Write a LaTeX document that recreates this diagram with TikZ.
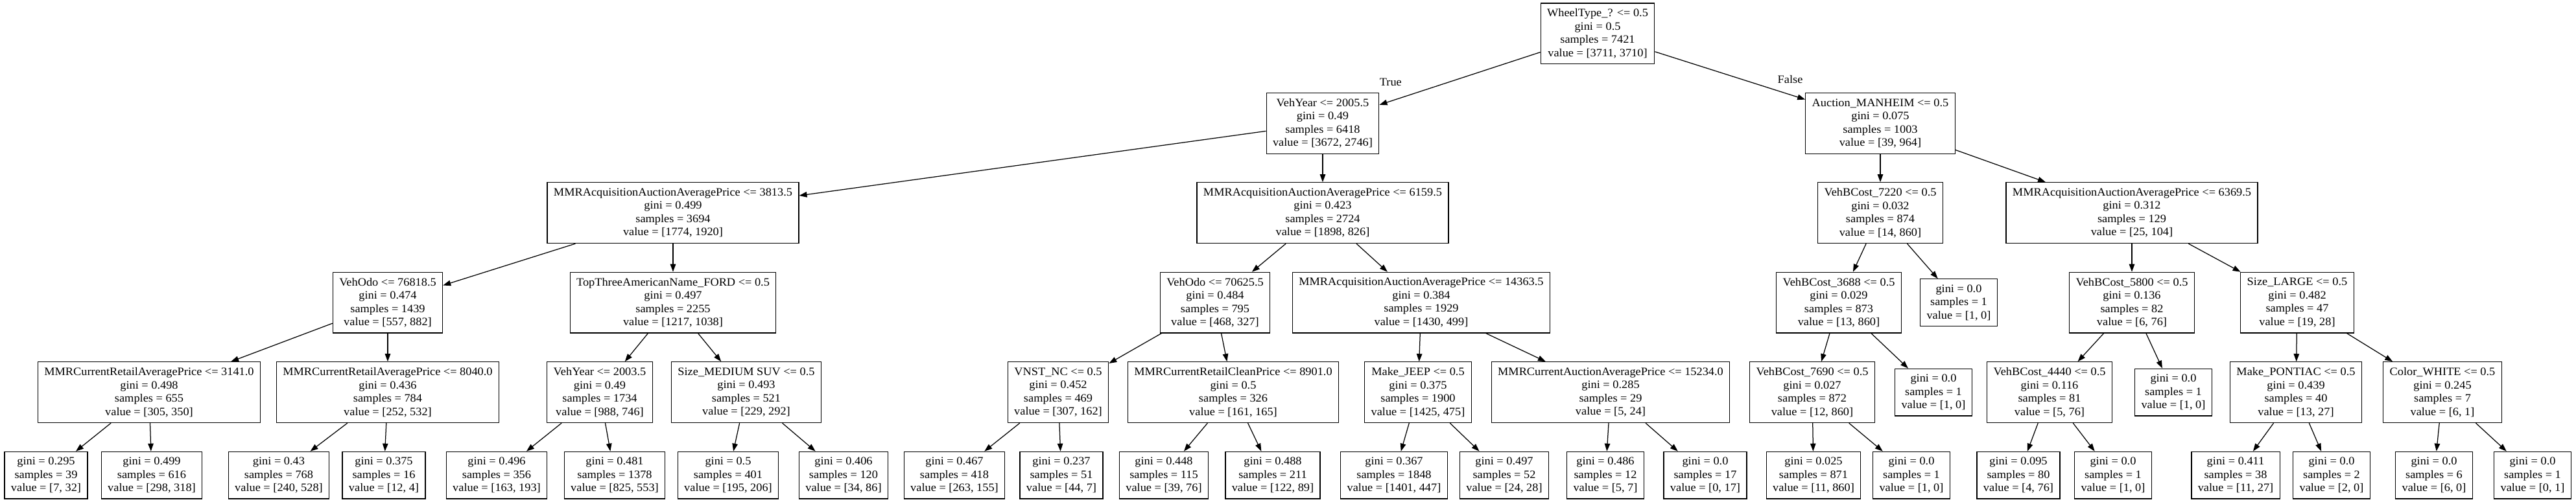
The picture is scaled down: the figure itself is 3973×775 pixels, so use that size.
\documentclass[tikz,border=0pt]{standalone}
\usepackage{fontspec}
\setmainfont{Liberation Serif}[FakeStretch=1.05]
\usetikzlibrary{arrows.meta}
\tikzset{
  ->,
  >={Triangle[length=12pt,width=8.5pt]},
  every node/.style={font=\fontsize{17.46}{20.5}\selectfont, align=center},
  split/.style={draw, inner xsep=9.88pt, inner ysep=0pt, minimum height=93.7pt},
  leaf/.style={split, minimum height=72.7pt},
}

\begin{document}
\begin{tikzpicture}[x=1pt, y=-1pt, line width=1.25pt]
    \useasboundingbox (0,0) rectangle (3973,775);

    % rank 0 and 1
    \node[split] (n0) at (2464,51.8) {WheelType\_? <= 0.5\\gini = 0.5\\samples = 7421\\value = [3711, 3710]};
    \node[split] (n1) at (2040,190.3) {VehYear <= 2005.5\\gini = 0.49\\samples = 6418\\value = [3672, 2746]};
    \node[split] (n2) at (2900,190.3) {Auction\_MANHEIM <= 0.5\\gini = 0.075\\samples = 1003\\value = [39, 964]};

    % rank 2
    \node[split] (n3) at (1038,328.7) {MMRAcquisitionAuctionAveragePrice <= 3813.5\\gini = 0.499\\samples = 3694\\value = [1774, 1920]};
    \node[split] (n4) at (2040,328.7) {MMRAcquisitionAuctionAveragePrice <= 6159.5\\gini = 0.423\\samples = 2724\\value = [1898, 826]};
    \node[split] (n5) at (2900,328.7) {VehBCost\_7220 <= 0.5\\gini = 0.032\\samples = 874\\value = [14, 860]};
    \node[split] (n6) at (3288,328.7) {MMRAcquisitionAuctionAveragePrice <= 6369.5\\gini = 0.312\\samples = 129\\value = [25, 104]};

    % rank 3
    \node[split] (n7) at (598,467.2) {VehOdo <= 76818.5\\gini = 0.474\\samples = 1439\\value = [557, 882]};
    \node[split] (n8) at (1038,467.2) {TopThreeAmericanName\_FORD <= 0.5\\gini = 0.497\\samples = 2255\\value = [1217, 1038]};
    \node[split] (n9) at (1874,467.2) {VehOdo <= 70625.5\\gini = 0.484\\samples = 795\\value = [468, 327]};
    \node[split] (n10) at (2192,467.2) {MMRAcquisitionAuctionAveragePrice <= 14363.5\\gini = 0.384\\samples = 1929\\value = [1430, 499]};
    \node[split] (n11) at (2836,467.2) {VehBCost\_3688 <= 0.5\\gini = 0.029\\samples = 873\\value = [13, 860]};
    \node[leaf] (n12) at (3021,467.2) {gini = 0.0\\samples = 1\\value = [1, 0]};
    \node[split] (n13) at (3288,467.2) {VehBCost\_5800 <= 0.5\\gini = 0.136\\samples = 82\\value = [6, 76]};
    \node[split] (n14) at (3543,467.2) {Size\_LARGE <= 0.5\\gini = 0.482\\samples = 47\\value = [19, 28]};

    % rank 4
    \node[split] (n15) at (230,605.7) {MMRCurrentRetailAveragePrice <= 3141.0\\gini = 0.498\\samples = 655\\value = [305, 350]};
    \node[split] (n16) at (598,605.7) {MMRCurrentRetailAveragePrice <= 8040.0\\gini = 0.436\\samples = 784\\value = [252, 532]};
    \node[split] (n17) at (925,605.7) {VehYear <= 2003.5\\gini = 0.49\\samples = 1734\\value = [988, 746]};
    \node[split] (n18) at (1151,605.7) {Size\_MEDIUM SUV <= 0.5\\gini = 0.493\\samples = 521\\value = [229, 292]};
    \node[split] (n19) at (1632,605.7) {VNST\_NC <= 0.5\\gini = 0.452\\samples = 469\\value = [307, 162]};
    \node[split] (n20) at (1902,605.7) {MMRCurrentRetailCleanPrice <= 8901.0\\gini = 0.5\\samples = 326\\value = [161, 165]};
    \node[split] (n21) at (2187,605.7) {Make\_JEEP <= 0.5\\gini = 0.375\\samples = 1900\\value = [1425, 475]};
    \node[split] (n22) at (2484,605.7) {MMRCurrentAuctionAveragePrice <= 15234.0\\gini = 0.285\\samples = 29\\value = [5, 24]};
    \node[split] (n23) at (2795,605.7) {VehBCost\_7690 <= 0.5\\gini = 0.027\\samples = 872\\value = [12, 860]};
    \node[leaf] (n24) at (2982,605.7) {gini = 0.0\\samples = 1\\value = [1, 0]};
    \node[split] (n25) at (3161,605.7) {VehBCost\_4440 <= 0.5\\gini = 0.116\\samples = 81\\value = [5, 76]};
    \node[leaf] (n26) at (3352,605.7) {gini = 0.0\\samples = 1\\value = [1, 0]};
    \node[split] (n27) at (3541,605.7) {Make\_PONTIAC <= 0.5\\gini = 0.439\\samples = 40\\value = [13, 27]};
    \node[split] (n28) at (3767,605.7) {Color\_WHITE <= 0.5\\gini = 0.245\\samples = 7\\value = [6, 1]};

    % rank 5 (leaves)
    \node[leaf] (n29) at (71,733.7) {gini = 0.295\\samples = 39\\value = [7, 32]};
    \node[leaf] (n30) at (234,733.7) {gini = 0.499\\samples = 616\\value = [298, 318]};
    \node[leaf] (n31) at (430,733.7) {gini = 0.43\\samples = 768\\value = [240, 528]};
    \node[leaf] (n32) at (592,733.7) {gini = 0.375\\samples = 16\\value = [12, 4]};
    \node[leaf] (n33) at (766,733.7) {gini = 0.496\\samples = 356\\value = [163, 193]};
    \node[leaf] (n34) at (948,733.7) {gini = 0.481\\samples = 1378\\value = [825, 553]};
    \node[leaf] (n35) at (1123,733.7) {gini = 0.5\\samples = 401\\value = [195, 206]};
    \node[leaf] (n36) at (1301,733.7) {gini = 0.406\\samples = 120\\value = [34, 86]};
    \node[leaf] (n37) at (1472,733.7) {gini = 0.467\\samples = 418\\value = [263, 155]};
    \node[leaf] (n38) at (1637,733.7) {gini = 0.237\\samples = 51\\value = [44, 7]};
    \node[leaf] (n39) at (1795,733.7) {gini = 0.448\\samples = 115\\value = [39, 76]};
    \node[leaf] (n40) at (1963,733.7) {gini = 0.488\\samples = 211\\value = [122, 89]};
    \node[leaf] (n41) at (2150,733.7) {gini = 0.367\\samples = 1848\\value = [1401, 447]};
    \node[leaf] (n42) at (2320,733.7) {gini = 0.497\\samples = 52\\value = [24, 28]};
    \node[leaf] (n43) at (2476,733.7) {gini = 0.486\\samples = 12\\value = [5, 7]};
    \node[leaf] (n44) at (2630,733.7) {gini = 0.0\\samples = 17\\value = [0, 17]};
    \node[leaf] (n45) at (2797,733.7) {gini = 0.025\\samples = 871\\value = [11, 860]};
    \node[leaf] (n46) at (2948,733.7) {gini = 0.0\\samples = 1\\value = [1, 0]};
    \node[leaf] (n47) at (3113,733.7) {gini = 0.095\\samples = 80\\value = [4, 76]};
    \node[leaf] (n48) at (3259,733.7) {gini = 0.0\\samples = 1\\value = [1, 0]};
    \node[leaf] (n49) at (3448,733.7) {gini = 0.411\\samples = 38\\value = [11, 27]};
    \node[leaf] (n50) at (3596,733.7) {gini = 0.0\\samples = 2\\value = [2, 0]};
    \node[leaf] (n51) at (3754,733.7) {gini = 0.0\\samples = 6\\value = [6, 0]};
    \node[leaf] (n52) at (3906,733.7) {gini = 0.0\\samples = 1\\value = [0, 1]};

    % splits
    \draw (n0) edge node[pos=.93, yshift=29pt]{True} (n1)
          (n0) edge node[pos=.9, yshift=24pt]{False} (n2)
          (n1) edge (n3)   (n1) edge (n4)
          (n2) edge (n5)   (n2) edge (n6)
          (n3) edge (n7)   (n3) edge (n8)
          (n4) edge (n9)   (n4) edge (n10)
          (n5) edge (n11)  (n5) edge (n12)
          (n6) edge (n13)  (n6) edge (n14)
          (n7) edge (n15)  (n7) edge (n16)
          (n8) edge (n17)  (n8) edge (n18)
          (n9) edge (n19)  (n9) edge (n20)
          (n10) edge (n21) (n10) edge (n22)
          (n11) edge (n23) (n11) edge (n24)
          (n13) edge (n25) (n13) edge (n26)
          (n14) edge (n27) (n14) edge (n28)
          (n15) edge (n29) (n15) edge (n30)
          (n16) edge (n31) (n16) edge (n32)
          (n17) edge (n33) (n17) edge (n34)
          (n18) edge (n35) (n18) edge (n36)
          (n19) edge (n37) (n19) edge (n38)
          (n20) edge (n39) (n20) edge (n40)
          (n21) edge (n41) (n21) edge (n42)
          (n22) edge (n43) (n22) edge (n44)
          (n23) edge (n45) (n23) edge (n46)
          (n25) edge (n47) (n25) edge (n48)
          (n27) edge (n49) (n27) edge (n50)
          (n28) edge (n51) (n28) edge (n52);

\end{tikzpicture}
\end{document}
